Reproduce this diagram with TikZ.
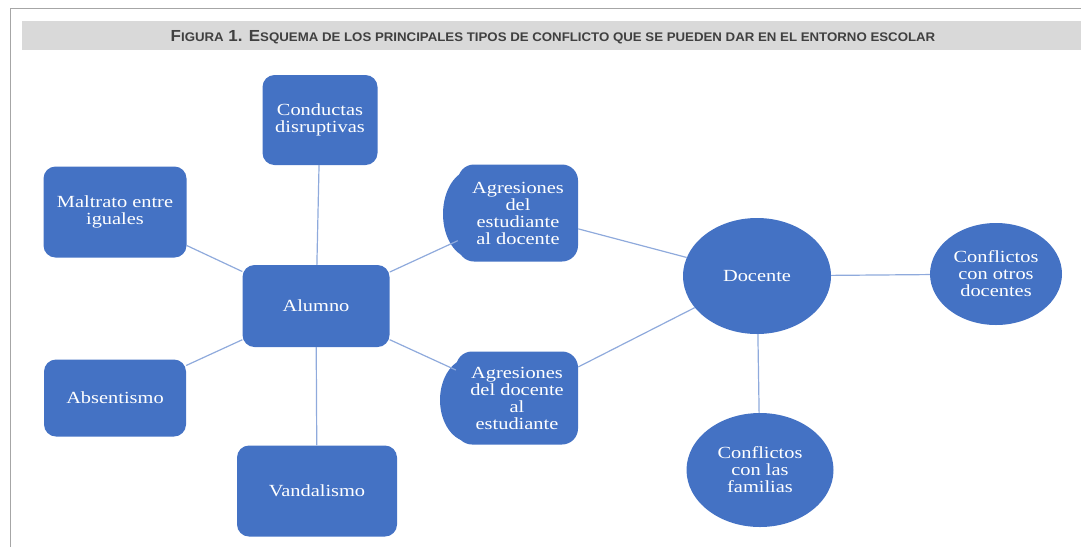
\documentclass[tikz,border=0pt]{standalone}
\usepackage{fontspec}
\setmainfont{Liberation Serif}[FakeStretch=1.2]
\newfontfamily\titlefont{Liberation Sans}
\usepackage{xcolor}
\usetikzlibrary{shapes.geometric}
\definecolor{boxblue}{HTML}{4472C4}
\definecolor{linkblue}{HTML}{8FAADC}
\definecolor{bargray}{HTML}{D9D9D9}
\definecolor{titlegray}{HTML}{404040}
\newcommand{\smc}[1]{{\fontsize{12.5}{13}\selectfont #1}}

\begin{document}
\begin{tikzpicture}[x=1pt, y=-1pt]
		\tikzstyle{every node} = [fill=boxblue, text=white, inner sep=0pt, align=center, font=\fontsize{17}{17}\selectfont]
		\tikzstyle{box} = [rectangle, rounded corners=12pt]
		\tikzstyle{oval} = [ellipse]
		\tikzstyle{link} = [line width=1.2pt, draw=linkblue]
		\useasboundingbox (0, 0) rectangle (1081, 547);
		% frame and title bar
		\draw [gray!70, line width=1pt] (10, 547) -- (10, 8) -- (1081, 8);
		\fill [bargray] (22, 21) rectangle (1081, 50);
		\node [fill=none, text=titlegray, font=\titlefont\bfseries\fontsize{16}{16}\selectfont] (title) at (553, 37)
			{\scalebox{1.06}[1]{F\smc{IGURA} 1. E\smc{SQUEMA DE LOS PRINCIPALES TIPOS DE CONFLICTO QUE SE PUEDEN DAR EN EL ENTORNO ESCOLAR}}};
		% left bulges of the two cloud boxes
		\fill [boxblue] (472, 214) ellipse [x radius=29, y radius=44];
		\fill [boxblue] (470, 400) ellipse [x radius=30, y radius=42];
		% nodes
		\node [box, minimum width=115, minimum height=90] (cond) at (320, 120) {Conductas\\disruptivas};
		\node [box, minimum width=143, minimum height=91] (malt) at (115, 212) {Maltrato entre\\iguales};
		\node [box, minimum width=147, minimum height=82] (alum) at (316, 306) {Alumno};
		\node [box, minimum width=142, minimum height=77] (abse) at (115, 398) {Absentismo};
		\node [box, minimum width=160, minimum height=91] (vand) at (317, 491) {Vandalismo};
		\node [box, rounded corners=16pt, minimum width=120, minimum height=97] (agrest) at (518, 213) {Agresiones\\del\\estudiante\\al docente};
		\node [box, rounded corners=16pt, minimum width=122, minimum height=93] (agrdoc) at (517, 398) {Agresiones\\del docente\\al\\estudiante};
		\node [oval, minimum width=148, minimum height=116] (doce) at (757, 276) {Docente};
		\node [oval, minimum width=132, minimum height=102] (otros) at (996, 274) {Conflictos\\con otros\\docentes};
		\node [oval, minimum width=147, minimum height=114] (fami) at (760, 470) {Conflictos\\con las\\familias};
		% links
		\draw [link] (cond) -- (alum);
		\draw [link] (malt) -- (alum);
		\draw [link] (abse) -- (alum);
		\draw [link] (vand) -- (alum);
		\draw [link] (alum) -- (agrest);
		\draw [link] (alum) -- (agrdoc);
		\draw [link] (agrest) -- (doce);
		\draw [link] (agrdoc) -- (doce);
		\draw [link] (doce) -- (otros);
		\draw [link] (doce) -- (fami);
	\end{tikzpicture}
\end{document}
